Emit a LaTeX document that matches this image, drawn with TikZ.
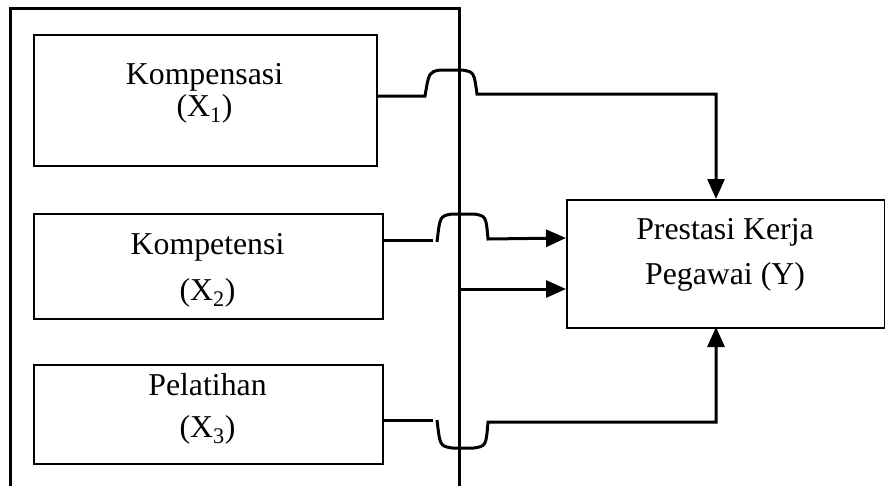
\documentclass[tikz,border=0pt]{standalone}
\usepackage{fontspec}
\setmainfont{Liberation Serif}
\usetikzlibrary{arrows.meta}
\begin{document}
\begin{tikzpicture}[x=1pt,y=-1pt,
  box/.style={draw,line width=2.2pt,inner sep=0pt,anchor=north west},
  lbl/.style={inner sep=0pt,font=\fontsize{31.8}{36}\selectfont},
  conn/.style={line width=3pt},
  arr/.style={conn,-{Triangle[length=20pt,width=17pt]}}]
\useasboundingbox (0,0) rectangle (885,485);
% outer frame
\coordinate (fbl) at (10,486);
\coordinate (fbr) at (459,486);
\draw[line width=3pt] (fbl) -- (10,8) -- (459,8) -- (fbr);
% boxes
\node[box,minimum width=343pt,minimum height=131pt] (b1) at (33,34) {};
\node[box,minimum width=349pt,minimum height=105pt] (b2) at (33,213) {};
\node[box,minimum width=349pt,minimum height=99pt] (b3) at (33,364) {};
\node[box,minimum width=318pt,minimum height=128pt] (y) at (566,199) {};
% labels
\node[lbl] (l1a) at (204.5,77) {Kompensasi};
\node[lbl] (l1b) at (204.5,109) {(X\textsubscript{1})};
\node[lbl] (l2a) at (207.5,247) {Kompetensi};
\node[lbl] (l2b) at (207.5,293) {(X\textsubscript{2})};
\node[lbl] (l3a) at (207.5,385) {Pelatihan};
\node[lbl] (l3b) at (207.5,430) {(X\textsubscript{3})};
\node[lbl] (ya) at (725,232) {Prestasi Kerja};
\node[lbl] (yb) at (725,277) {Pegawai (Y)};
% connector 1
\coordinate (t1) at (716,199);
\draw[arr] (b1.east |- 0,96) -- (425,96) .. controls (429,72) .. (440,70) -- (462,70)
  .. controls (474,72) .. (477,94) -- (716,94) -- (t1);
% connector 2
\coordinate (s2) at (382,240);
\draw[conn] (s2) -- (433,240);
\draw[arr] (437,242) .. controls (440,216) .. (452,214) -- (474,214)
  .. controls (486,216) .. (488,239) -- (y.west |- 0,238);
% connector from frame line
\coordinate (f2) at (459,289);
\draw[arr] (f2) -- (y.west |- 0,289);
% connector 3
\coordinate (s3) at (382,420);
\coordinate (t3) at (716,327);
\draw[conn] (s3) -- (433,420);
\draw[arr] (437,420) .. controls (440,446) .. (452,448) -- (474,448)
  .. controls (486,446) .. (488,422) -- (716,422) -- (t3);
\end{tikzpicture}
\end{document}
